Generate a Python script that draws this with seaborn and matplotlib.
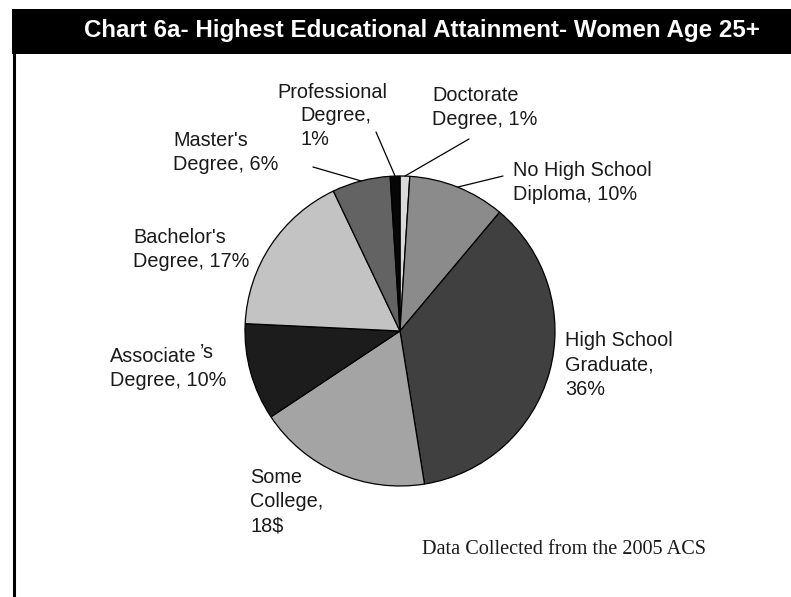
import matplotlib
matplotlib.use("Agg")
import matplotlib.pyplot as plt
import numpy as np
import seaborn as sns

# Educational attainment, women age 25+ (2005 ACS), clockwise from 12 o'clock
categories = [
    "Doctorate Degree", "No High School Diploma", "High School Graduate",
    "Some College", "Associate's Degree", "Bachelor's Degree",
    "Master's Degree", "Professional Degree",
]
shares = [1, 10, 36, 18, 10, 17, 6, 1]
label_texts = [
    "Doctorate\nDegree, 1%",
    "No High School\nDiploma, 10%",
    "High School\nGraduate,\n36%",
    "Some\nCollege,\n18$",
    None,  # drawn in two parts below
    "Bachelor's\nDegree, 17%",
    "Master's\nDegree, 6%",
    "Professional\nDegree,\n1%",
]
fills = ["#d9d9d9", "#8b8b8b", "#404040", "#a4a4a4",
         "#1c1c1c", "#c3c3c3", "#636363", "#060606"]

title = "Chart 6a- Highest Educational Attainment- Women Age 25+"
source = "Data Collected from the 2005 ACS"

sns.set_theme(style="white")
plt.rcParams["font.family"] = ["Liberation Sans", "DejaVu Sans"]

W, H = 791, 597
fig = plt.figure(figsize=(W / 100, H / 100), dpi=100)
fig.patch.set_facecolor("white")
ax = fig.add_axes([0, 0, 1, 1])


def py(y):
    """Convert a top-down pixel row into the axes' upward y."""
    return H - y


cx, cy, R = 400, py(331), 155
wedges, _ = ax.pie(
    shares, colors=fills, startangle=90, counterclock=False,
    center=(cx, cy), radius=R, frame=True,
    wedgeprops=dict(edgecolor="black", linewidth=0.9),
)
ax.set_xlim(0, W)
ax.set_ylim(0, H)
ax.set_aspect("equal")
ax.set_axis_off()

# Title band and left frame rule
ax.add_patch(plt.Rectangle((12, py(54)), W - 12, 45, color="black", lw=0, zorder=1))
ax.plot([14, 14], [py(9), 0], color="black", lw=2.2, solid_capstyle="butt", zorder=1)
ax.text(422, py(31), title, color="white", fontsize=17.4, fontweight="bold",
        ha="center", va="center", zorder=2)

txt_kw = dict(fontsize=14.3, color="#1a1a1a", linespacing=1.36, va="top")

# label anchor (top-left pixel) and leader-line outer end for each slice
label_pos = {
    0: ((432, 86), (469, 139)),
    1: ((513, 161), (503, 176)),
    2: ((565, 331), None),
    3: ((250, 468), None),
    5: ((133, 228), None),
    6: ((173, 131), (313, 167)),
    7: ((277, 83), (376, 132)),
}

for i, (xy, lead) in label_pos.items():
    tx, ty = xy
    if i == 7:
        ax.text(332, py(ty), "Professional", ha="center", **txt_kw)
        ax.text(300, py(ty + 23), "Degree,\n1%", ha="left", **txt_kw)
    else:
        ax.text(tx, py(ty), label_texts[i], ha="left", **txt_kw)
    if lead is not None:
        w = wedges[i]
        mid = np.deg2rad((w.theta1 + w.theta2) / 2)
        ex, ey = cx + R * np.cos(mid), cy + R * np.sin(mid)
        ax.plot([lead[0], ex], [py(lead[1]), ey], color="black", lw=0.9, zorder=3)

# Associate's label with its raised possessive
base_kw = {k: v for k, v in txt_kw.items() if k != "va"}
ax.text(110, py(362), "Associate", ha="left", va="baseline", **base_kw)
ax.text(200, py(358), "’s", ha="left", va="baseline", **base_kw)
ax.text(110, py(386), "Degree, 10%", ha="left", va="baseline", **base_kw)

ax.text(564, py(549), source, family=["Liberation Serif", "DejaVu Serif"],
        fontsize=14.6, color="#1a1a1a", ha="center", va="center")

fig.savefig("out.png", dpi=100, facecolor="white")
